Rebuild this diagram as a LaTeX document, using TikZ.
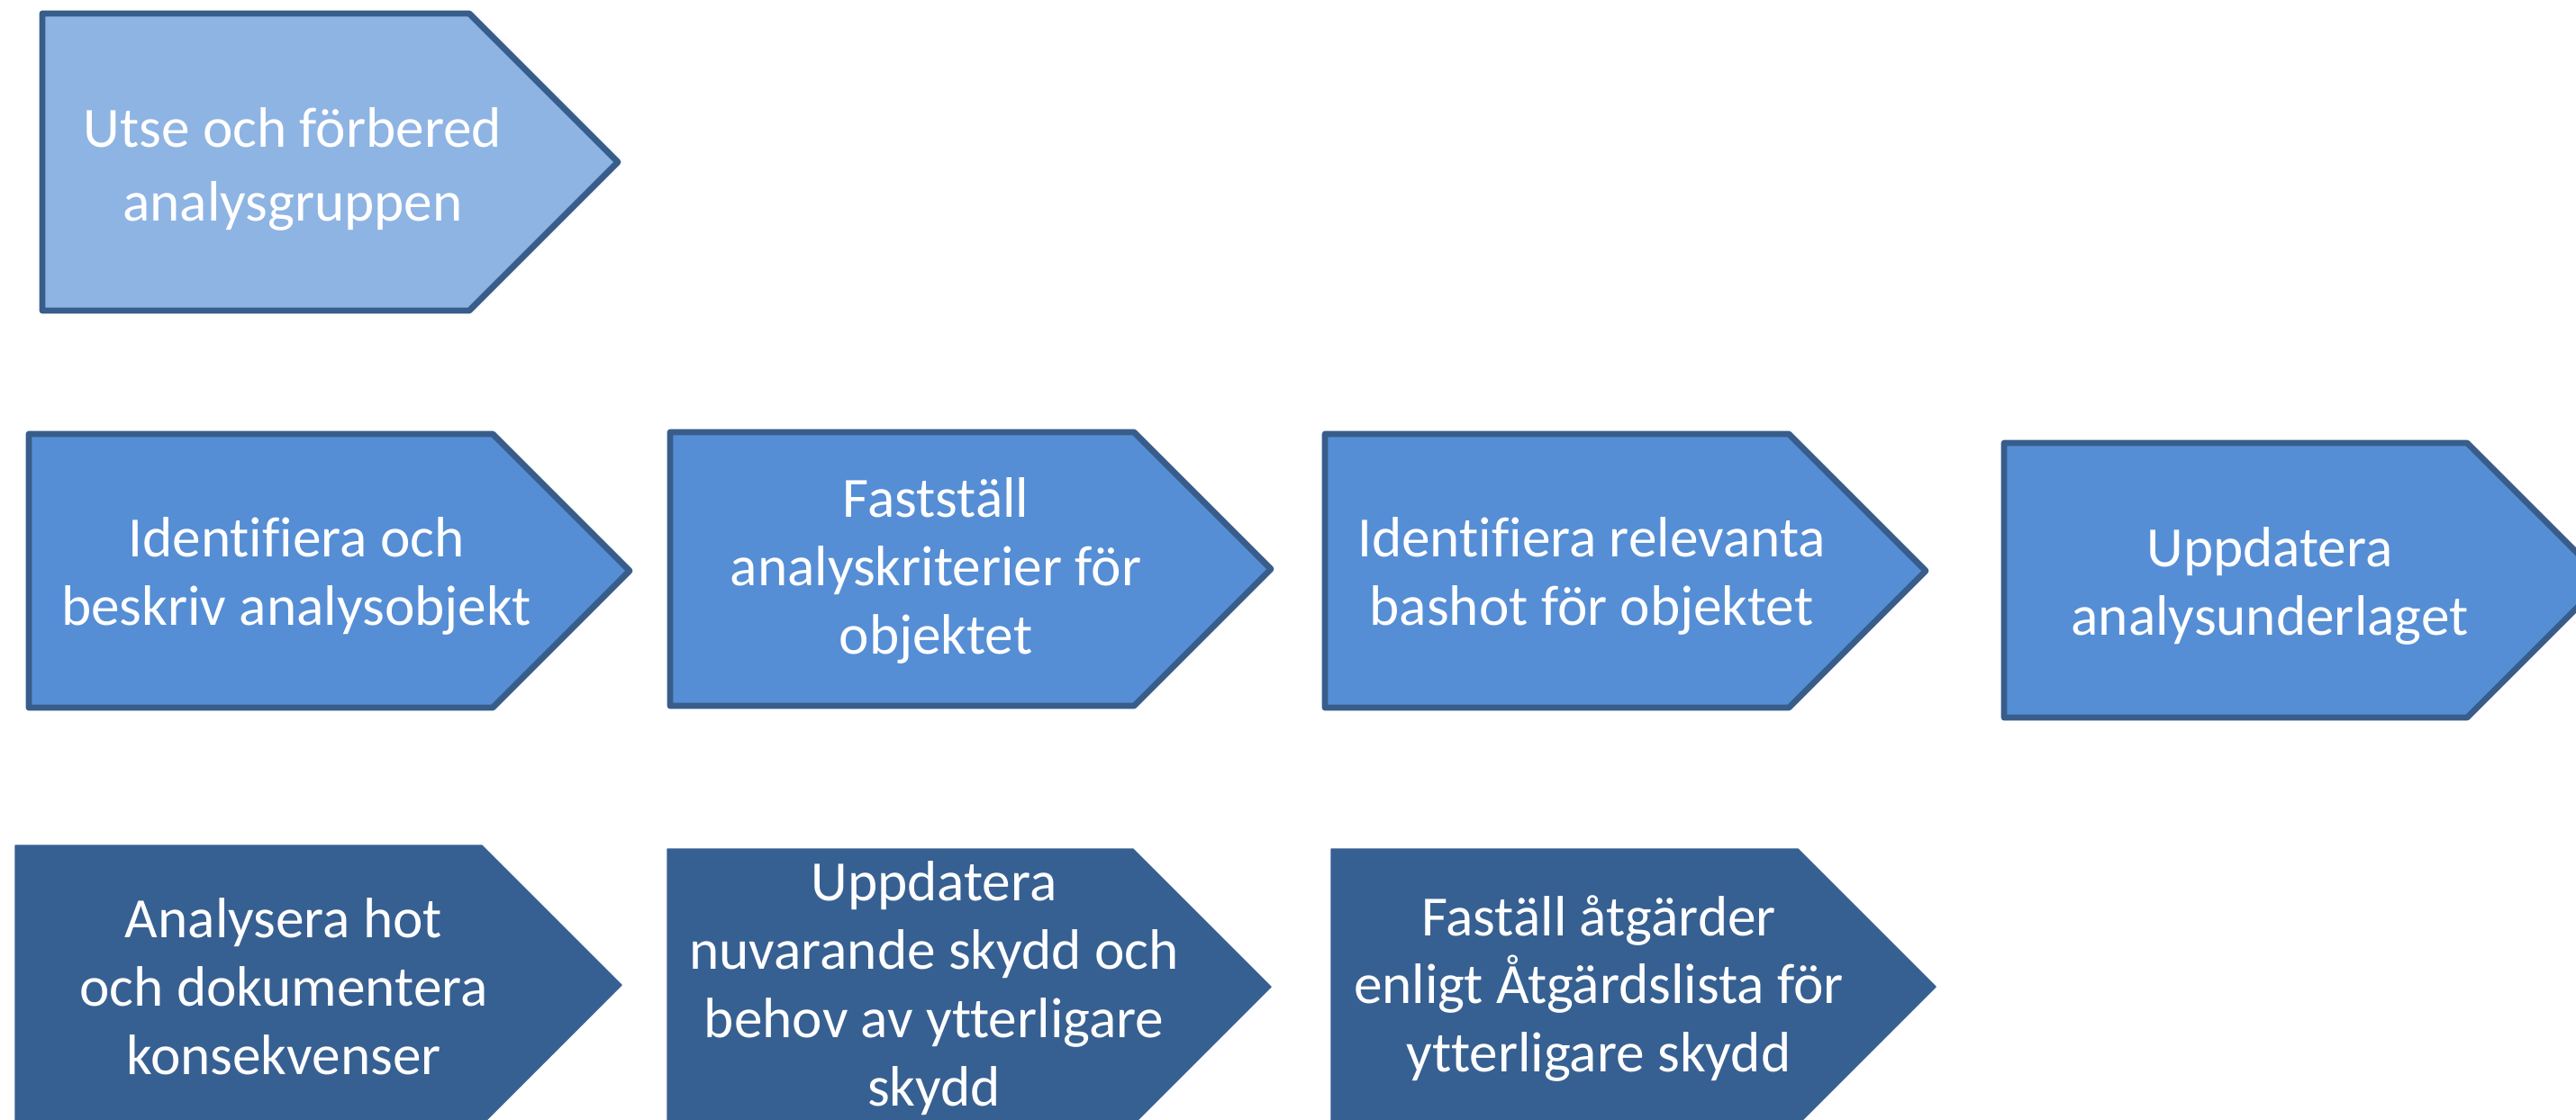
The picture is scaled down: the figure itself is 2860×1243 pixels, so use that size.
\documentclass[tikz,border=0pt]{standalone}
\usepackage{fontspec}
\setmainfont[Ligatures=NoCommon]{Carlito}
\definecolor{lightfill}{HTML}{8EB4E3}
\definecolor{midfill}{HTML}{558ED5}
\definecolor{darkfill}{HTML}{376092}
\definecolor{edgeblue}{HTML}{385D8A}
\tikzset{
  lightplate/.style={fill=lightfill,draw=edgeblue,line width=4.8pt,line join=round},
  midplate/.style={fill=midfill,draw=edgeblue,line width=4.8pt,line join=round},
  darkplate/.style={fill=darkfill,draw=darkfill,line width=1pt,line join=round},
  lbl/.style={text=white,align=center,inner sep=0pt,font=\fontsize{45}{54}\selectfont}
}
\newcommand\plate[5]{%
  \draw[#5] (#1,#2) -- (#3,#2) -- ({#3+(#4-#2)/2},{(#2+#4)/2}) -- (#3,#4) -- (#1,#4) -- cycle;}
\begin{document}
\begin{tikzpicture}[x=0.025cm,y=-0.025cm]
\useasboundingbox (0,0) rectangle (2860,1243);
\clip (0,0) rectangle (2860,1243);
% row 1
\plate{47}{15}{521}{345}{lightplate}
\node[lbl,font=\fontsize{45}{58}\selectfont] (t1) at (325,188) {Utse och förbered\\analysgruppen};
% row 2
\plate{32}{482}{547}{786}{midplate}
\node[lbl] (t2) at (329,640) {Identifiera och\\beskriv analysobjekt};
\plate{744}{480}{1259}{784}{midplate}
\node[lbl] (t3) at (1039,634) {Fastställ\\analyskriterier för\\objektet};
\plate{1471}{482}{1986}{786}{midplate}
\node[lbl] (t4) at (1767,640) {Identifiera relevanta\\bashot för objektet};
\plate{2225}{492}{2739}{797}{midplate}
\node[lbl] (t5) at (2520,651) {Uppdatera\\analysunderlaget};
% row 3
\plate{17}{939}{535}{1249}{darkplate}
\node[lbl] (t6) at (315,1096) {Analysera hot\\och dokumentera\\konsekvenser};
\plate{741}{943}{1258}{1249}{darkplate}
\node[lbl] (t7) at (1037,1098) {Uppdatera\\nuvarande skydd och\\behov av ytterligare\\skydd};
\plate{1478}{943}{1996}{1249}{darkplate}
\node[lbl] (t8) at (1775,1098) {Faställ åtgärder\\enligt Åtgärdslista för\\ytterligare skydd};
\end{tikzpicture}
\end{document}
